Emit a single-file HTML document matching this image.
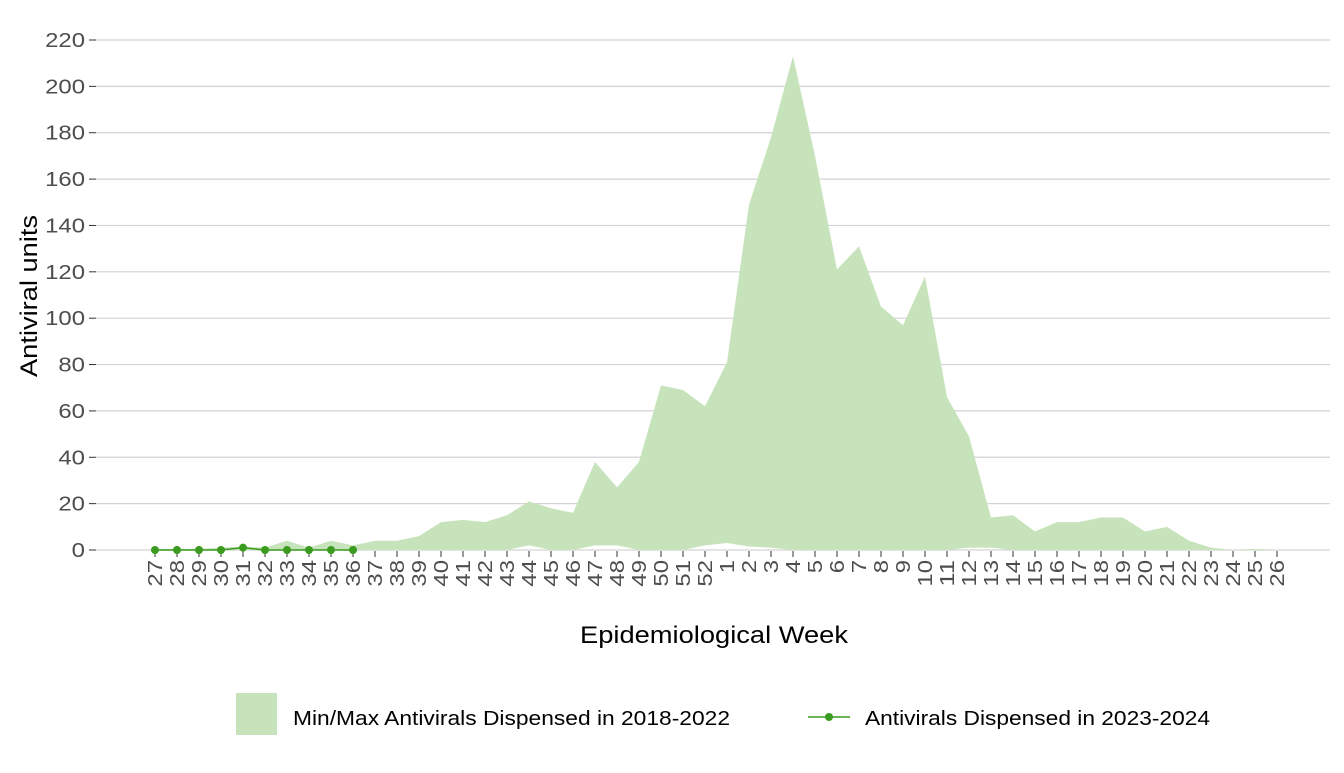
<!DOCTYPE html>
<html><head><meta charset="utf-8"><style>
body{margin:0;background:#fff;}
svg text{font-family:"Liberation Sans",Arial,sans-serif;}
</style></head><body>
<svg id="s" width="1344" height="768" xmlns="http://www.w3.org/2000/svg"></svg>
<script>
const s=document.getElementById('s');
const X=i=>155+22*i, Y=v=>550-v*510/220;
let h='';
for(let v=0;v<=220;v+=20){h+=`<line x1="96" x2="1330" y1="${Y(v)}" y2="${Y(v)}" stroke="#d3d3d3" stroke-width="1.2"/>`;
h+=`<line x1="89" x2="96" y1="${Y(v)}" y2="${Y(v)}" stroke="#333" stroke-width="1"/>`;
const t=String(v);
h+=`<text x="85" y="${Y(v)+7}" font-size="20" fill="#4d4d4d" text-anchor="end" textLength="${t.length*13.3}" lengthAdjust="spacingAndGlyphs">${t}</text>`;}
const weeks=[];for(let w=27;w<=52;w++)weeks.push(w);for(let w=1;w<=26;w++)weeks.push(w);
const mx=[0.5,0.5,0.5,1,1.5,1,4,1,4,2,4,4,6,12,13,12,15,21,18,16,38,27,38,71,69,62,81,149,178,213,170,121,131,105,97,118,66,49,14,15,8,12,12,14,14,8,10,4,1,0,0.5,0];
const mn=new Array(52).fill(0);
mn[17]=2;mn[20]=2;mn[21]=2;mn[25]=2;mn[26]=3;mn[27]=1.5;mn[28]=1;mn[37]=1;mn[38]=1;
let p=mx.map((v,i)=>`${X(i)},${Y(v)}`).join(' ');
for(let i=51;i>=0;i--)p+=` ${X(i)},${Y(mn[i])}`;
h+=`<polygon points="${p}" fill="#c7e3bb"/>`;
weeks.forEach((w,i)=>{h+=`<line x1="${X(i)}" x2="${X(i)}" y1="551" y2="557" stroke="#333"/>`;
const t=String(w);
h+=`<text transform="translate(${X(i)+7},560) rotate(-90)" font-size="20" fill="#4d4d4d" text-anchor="end" textLength="${t.length*13.3}" lengthAdjust="spacingAndGlyphs">${t}</text>`;});
const ln=[0,0,0,0,1,0,0,0,0,0];
h+=`<polyline points="${ln.map((v,i)=>X(i)+','+Y(v)).join(' ')}" fill="none" stroke="#3a9b1f" stroke-width="1.5"/>`;
ln.forEach((v,i)=>h+=`<circle cx="${X(i)}" cy="${Y(v)}" r="4" fill="#3a9b1f"/>`);
h+=`<text x="714" y="643" font-size="24" fill="#000" text-anchor="middle" textLength="268" lengthAdjust="spacingAndGlyphs">Epidemiological Week</text>`;
h+=`<text transform="translate(37,296) rotate(-90)" font-size="24" fill="#000" text-anchor="middle" textLength="162" lengthAdjust="spacingAndGlyphs">Antiviral units</text>`;
h+=`<rect x="236" y="693" width="41" height="42" fill="#c7e3bb"/>`;
h+=`<text x="293" y="725" font-size="20" fill="#000" textLength="437" lengthAdjust="spacingAndGlyphs">Min/Max Antivirals Dispensed in 2018-2022</text>`;
h+=`<line x1="808" x2="850" y1="717" y2="717" stroke="#3a9b1f" stroke-width="1.5"/><circle cx="829" cy="717" r="4" fill="#3a9b1f"/>`;
h+=`<text x="865" y="725" font-size="20" fill="#000" textLength="345" lengthAdjust="spacingAndGlyphs">Antivirals Dispensed in 2023-2024</text>`;
s.innerHTML=h;
</script>
</body></html>
